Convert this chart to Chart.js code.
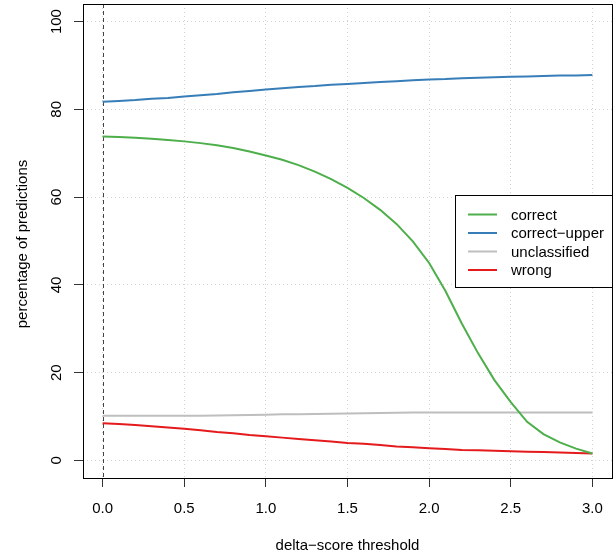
<!DOCTYPE html>
<html>
<head>
<meta charset="utf-8">
<script src="https://cdn.jsdelivr.net/npm/chart.js@4/dist/chart.umd.min.js"></script>
<style>
    html, body { margin: 0; padding: 0; background: #fff; }
    canvas { display: block; }
</style>
</head>
<body>
<canvas id="chart" width="613" height="559"></canvas>
<script>
const thresholds = [
    0.0, 0.1, 0.2, 0.3, 0.4, 0.5, 0.6, 0.7, 0.8, 0.9,
    1.0, 1.1, 1.2, 1.3, 1.4, 1.5, 1.6, 1.7, 1.8, 1.9,
    2.0, 2.1, 2.2, 2.3, 2.4, 2.5, 2.6, 2.7, 2.8, 2.9, 3.0,
];

const correct = [
    73.8, 73.7, 73.5, 73.3, 73.0, 72.7, 72.3, 71.8, 71.2, 70.4,
    69.5, 68.5, 67.3, 65.8, 64.1, 62.1, 59.8, 57.1, 53.9, 49.9,
    45.0, 38.6, 31.2, 24.4, 18.3, 13.3, 8.8, 6.0, 4.1, 2.7, 1.6,
];

const correctUpper = [
    81.7, 81.9, 82.1, 82.4, 82.6, 82.9, 83.2, 83.5, 83.9, 84.2,
    84.5, 84.8, 85.1, 85.3, 85.6, 85.8, 86.0, 86.2, 86.4, 86.6,
    86.8, 86.9, 87.1, 87.2, 87.3, 87.4, 87.5, 87.6, 87.7, 87.7, 87.8,
];

const unclassified = [
    10.2, 10.2, 10.2, 10.2, 10.2, 10.2, 10.2, 10.25, 10.3, 10.35,
    10.4, 10.5, 10.55, 10.6, 10.65, 10.7, 10.75, 10.8, 10.85, 10.9,
    10.9, 10.9, 10.9, 10.9, 10.9, 10.9, 10.9, 10.9, 10.9, 10.9, 10.9,
];

const wrong = [
    8.5, 8.3, 8.1, 7.8, 7.5, 7.2, 6.9, 6.5, 6.2, 5.8,
    5.5, 5.2, 4.9, 4.6, 4.3, 4.0, 3.8, 3.5, 3.2, 3.0,
    2.8, 2.6, 2.4, 2.3, 2.2, 2.1, 2.0, 1.9, 1.8, 1.7, 1.6,
];

const xTickLabels = ["0.0", "0.5", "1.0", "1.5", "2.0", "2.5", "3.0"];
const yTickLabels = ["0", "20", "40", "60", "80", "100"];

const seriesNames = ["correct", "correct\u2212upper", "unclassified", "wrong"];
const seriesColors = ["#4DAF4A", "#377EB8", "#BEBEBE", "#E41A1C"];
const seriesValues = [correct, correctUpper, unclassified, wrong];

const font = '15px "Liberation Sans", Arial, sans-serif';

function toPoints(values) {
    return thresholds.map((t, i) => ({ x: t, y: values[i] }));
}

const rPlot = {
    id: 'rPlot',
    beforeDatasetsDraw(chart) {
        const ctx = chart.ctx;
        const area = chart.chartArea;
        const x0 = Math.round(chart.scales.x.getPixelForValue(0)) + 0.5;
        ctx.save();
        ctx.strokeStyle = '#444';
        ctx.lineWidth = 1;
        ctx.setLineDash([4, 3]);
        ctx.beginPath();
        ctx.moveTo(x0, area.top);
        ctx.lineTo(x0, area.bottom);
        ctx.stroke();
        ctx.restore();
    },
    afterDraw(chart) {
        const ctx = chart.ctx;
        const area = chart.chartArea;
        const xs = chart.scales.x;
        const ys = chart.scales.y;
        ctx.save();

        // box
        ctx.strokeStyle = '#000';
        ctx.lineWidth = 1;
        ctx.strokeRect(area.left + 0.5, area.top + 0.5, area.right - area.left, area.bottom - area.top);

        ctx.fillStyle = '#000';
        ctx.font = font;

        // x tick labels
        ctx.textAlign = 'center';
        ctx.textBaseline = 'alphabetic';
        for (const label of xTickLabels) {
            ctx.fillText(label, xs.getPixelForValue(Number(label)), 513);
        }

        // x title
        ctx.fillText("delta\u2212score threshold", (area.left + area.right) / 2, 550);

        // y tick labels
        for (const label of yTickLabels) {
            ctx.save();
            ctx.translate(61, ys.getPixelForValue(Number(label)));
            ctx.rotate(-Math.PI / 2);
            ctx.fillText(label, 0, 0);
            ctx.restore();
        }

        // y title
        ctx.save();
        ctx.translate(27, 244);
        ctx.rotate(-Math.PI / 2);
        ctx.fillText("percentage of predictions", 0, 0);
        ctx.restore();

        // legend
        const lx = 455.5, ly = 195.5, lw = area.right - 455, lh = 92;
        ctx.fillStyle = '#fff';
        ctx.fillRect(lx, ly, lw, lh);
        ctx.strokeStyle = '#000';
        ctx.strokeRect(lx, ly, lw, lh);
        ctx.textAlign = 'left';
        for (let i = 0; i < seriesNames.length; i++) {
            const rowY = 214.5 + i * 18.5;
            ctx.strokeStyle = seriesColors[i];
            ctx.lineWidth = 2;
            ctx.beginPath();
            ctx.moveTo(468, rowY);
            ctx.lineTo(497, rowY);
            ctx.stroke();
            ctx.fillStyle = '#000';
            ctx.fillText(seriesNames[i], 511, rowY + 5);
        }

        ctx.restore();
    },
};

const ctx = document.getElementById('chart').getContext('2d');
const chart = new Chart(ctx, {
    type: 'line',
    data: {
        datasets: seriesValues.map((values, i) => ({
            label: seriesNames[i],
            data: toPoints(values),
            borderColor: seriesColors[i],
            borderWidth: 2,
            pointRadius: 0,
            tension: 0,
            fill: false,
        })),
    },
    options: {
        responsive: false,
        animation: false,
        devicePixelRatio: 1,
        layout: {
            padding: { top: 4, right: 1, left: 0, bottom: 0 },
        },
        plugins: {
            legend: { display: false },
            tooltip: { enabled: false },
        },
        scales: {
            x: {
                type: 'linear',
                min: -0.12,
                max: 3.12,
                ticks: { stepSize: 0.5, includeBounds: false, display: false },
                grid: {
                    color: '#d3d3d3',
                    lineWidth: 1,
                    drawTicks: true,
                    tickLength: 9,
                    tickColor: '#333',
                    tickWidth: 1,
                },
                border: { display: false, dash: [1, 3] },
                afterFit: (s) => { s.height = 81; },
            },
            y: {
                type: 'linear',
                min: -4,
                max: 104,
                ticks: { stepSize: 20, includeBounds: false, display: false },
                grid: {
                    color: '#d3d3d3',
                    lineWidth: 1,
                    drawTicks: true,
                    tickLength: 9,
                    tickColor: '#333',
                    tickWidth: 1,
                },
                border: { display: false, dash: [1, 3] },
                afterFit: (s) => { s.width = 83; },
            },
        },
    },
    plugins: [rPlot],
});
</script>
</body>
</html>
